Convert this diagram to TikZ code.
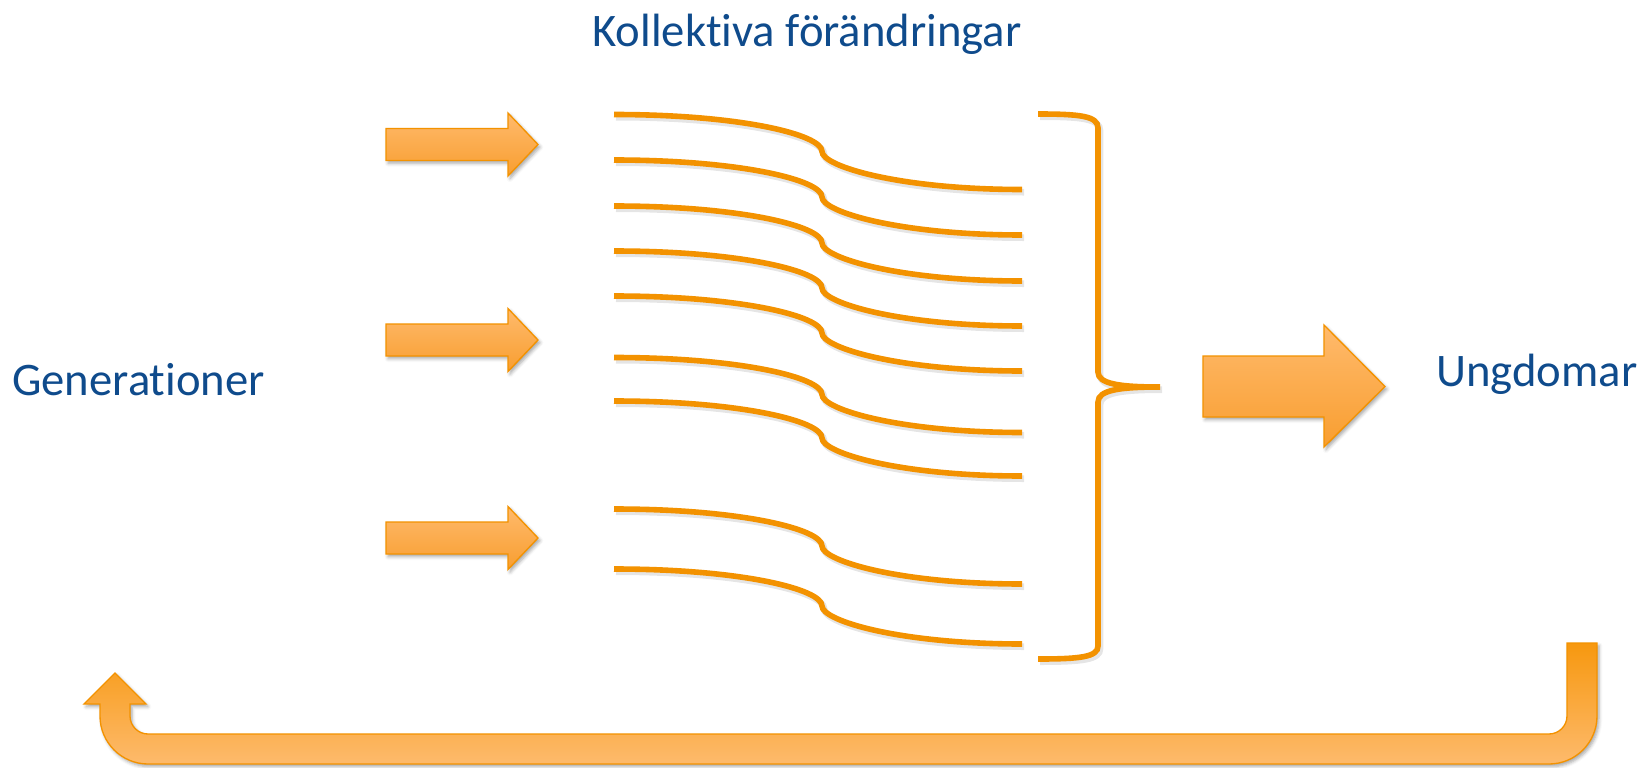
\documentclass[tikz,border=0pt]{standalone}
\usepackage{fontspec}
\setmainfont[Ligatures=NoCommon]{Carlito}
\usetikzlibrary{shadows.blur}
\definecolor{org}{HTML}{F39200}
\definecolor{txt}{HTML}{0F4B8C}
\definecolor{arrlight}{HTML}{FFBA6C}
\definecolor{arrdark}{HTML}{F89E30}
\definecolor{udark}{HTML}{F7980F}
\definecolor{ulight}{HTML}{FDBA6C}
\begin{document}
\begin{tikzpicture}[x=0.75pt,y=-0.75pt,
  orangeline/.style={draw=org, line width=4.2pt},
  lineshadow/.style={draw=black, opacity=0.10, line width=5pt},
  softshadow/.style={blur shadow={shadow xshift=1.5pt, shadow yshift=-2pt, shadow blur radius=2.5pt, shadow opacity=35}},
  arrowfill/.style={draw=org, line width=1pt, top color=arrlight, bottom color=arrdark, softshadow},
  ufill/.style={draw=org, line width=1pt, top color=udark, bottom color=ulight, softshadow},
  lbl/.style={text=txt, font=\fontsize{35}{42}\selectfont, inner sep=0pt}]
\useasboundingbox (0,0) rectangle (1647,768);

% texts
\node[lbl, anchor=base] (top) at (807,46) {Kollektiva förändringar};
\node[lbl, anchor=base west] (gen) at (12,395) {Generationer};
\node[lbl, anchor=base west] (ung) at (1436,386) {Ungdomar};

% small arrows
\foreach \c in {144.5,340,538} {
  \path[arrowfill] (386,\c-16) -- (508,\c-16) -- (508,\c-31.5) -- (538,\c) -- (508,\c+31.5) -- (508,\c+16) -- (386,\c+16) -- cycle;
}

% wavy lines
\foreach \y in {114.5,160,206,251,296,357.5,401,509,569} {
  \draw[lineshadow, xshift=1.5pt, yshift=-2pt] (614,\y) .. controls (740,\y) and (822,\y+20) .. (822,\y+37) .. controls (822,\y+52) and (900,\y+75) .. (1022,\y+75);
  \draw[orangeline] (614,\y) .. controls (740,\y) and (822,\y+20) .. (822,\y+37) .. controls (822,\y+52) and (900,\y+75) .. (1022,\y+75);
}

% brace
\draw[lineshadow, xshift=1.5pt, yshift=-2pt] (1038,114) .. controls (1080,114) and (1098,116) .. (1098,128) -- (1098,372) .. controls (1098,384) and (1120,387) .. (1160,387) .. controls (1120,387) and (1098,390) .. (1098,402) -- (1098,646) .. controls (1098,657) and (1080,659) .. (1038,659);
\draw[orangeline] (1038,114) .. controls (1080,114) and (1098,116) .. (1098,128) -- (1098,372) .. controls (1098,384) and (1120,387) .. (1160,387) .. controls (1120,387) and (1098,390) .. (1098,402) -- (1098,646) .. controls (1098,657) and (1080,659) .. (1038,659);

% big arrow
\path[arrowfill] (1203,356) -- (1324,356) -- (1324,325) -- (1385,386.5) -- (1324,447) -- (1324,417) -- (1203,417) -- cycle;

% U-turn arrow
\path[ufill] (1567,643) -- (1597,643) -- (1597,716)
  .. controls (1597,742.5) and (1575.5,764) .. (1549,764)
  -- (148,764)
  .. controls (121.5,764) and (100,742.5) .. (100,716)
  -- (100,704) -- (84,704) -- (115,673) -- (146,704) -- (130,704) -- (130,716)
  .. controls (130,725.9) and (138.1,734) .. (148,734)
  -- (1549,734)
  .. controls (1558.9,734) and (1567,725.9) .. (1567,716)
  -- cycle;
\end{tikzpicture}
\end{document}
